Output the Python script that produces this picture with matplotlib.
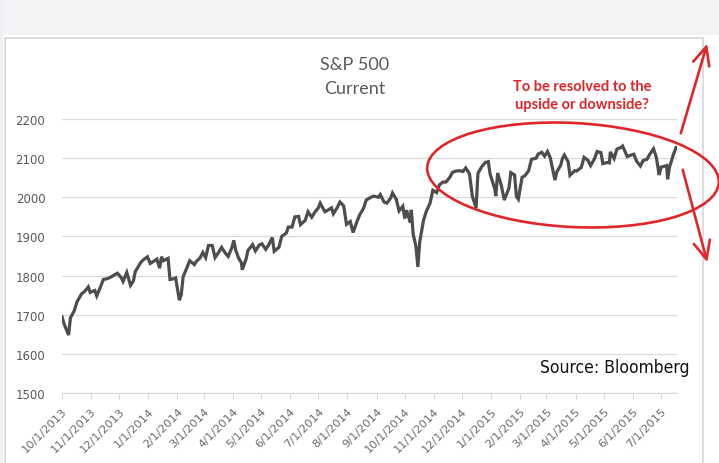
import matplotlib
matplotlib.use("Agg")
import matplotlib.pyplot as plt
from matplotlib.patches import Ellipse, Rectangle
import pandas as pd

# S&P 500 level, sampled a couple of times per week
dates = [
    "2013-10-01", "2013-10-03", "2013-10-08", "2013-10-10", "2013-10-14", "2013-10-17", "2013-10-22",
    "2013-10-25", "2013-10-29", "2013-10-31", "2013-11-05", "2013-11-07", "2013-11-11", "2013-11-14",
    "2013-11-18", "2013-11-21", "2013-11-26", "2013-11-29", "2013-12-03", "2013-12-05", "2013-12-09",
    "2013-12-13", "2013-12-16", "2013-12-18", "2013-12-20", "2013-12-24", "2013-12-27", "2013-12-31",
    "2014-01-03", "2014-01-07", "2014-01-10", "2014-01-13", "2014-01-15", "2014-01-17", "2014-01-22",
    "2014-01-24", "2014-01-28", "2014-01-30", "2014-02-03", "2014-02-05", "2014-02-07", "2014-02-11",
    "2014-02-14", "2014-02-19", "2014-02-21", "2014-02-25", "2014-02-28", "2014-03-03", "2014-03-06",
    "2014-03-10", "2014-03-13", "2014-03-17", "2014-03-20", "2014-03-24", "2014-03-27", "2014-03-31",
    "2014-04-02", "2014-04-04", "2014-04-07", "2014-04-10", "2014-04-11", "2014-04-15", "2014-04-17",
    "2014-04-22", "2014-04-25", "2014-04-29", "2014-05-02", "2014-05-06", "2014-05-09", "2014-05-13",
    "2014-05-15", "2014-05-20", "2014-05-23", "2014-05-28", "2014-05-30", "2014-06-03", "2014-06-06",
    "2014-06-10", "2014-06-12", "2014-06-17", "2014-06-20", "2014-06-24", "2014-06-27", "2014-07-01",
    "2014-07-03", "2014-07-08", "2014-07-11", "2014-07-15", "2014-07-17", "2014-07-21", "2014-07-24",
    "2014-07-28", "2014-07-31", "2014-08-04", "2014-08-07", "2014-08-11", "2014-08-14", "2014-08-18",
    "2014-08-21", "2014-08-26", "2014-08-29", "2014-09-03", "2014-09-05", "2014-09-09", "2014-09-12",
    "2014-09-16", "2014-09-18", "2014-09-22", "2014-09-25", "2014-09-29", "2014-10-01", "2014-10-03",
    "2014-10-07", "2014-10-08", "2014-10-10", "2014-10-13", "2014-10-15", "2014-10-17", "2014-10-21",
    "2014-10-24", "2014-10-28", "2014-10-31", "2014-11-04", "2014-11-07", "2014-11-11", "2014-11-14",
    "2014-11-18", "2014-11-21", "2014-11-25", "2014-11-28", "2014-12-02", "2014-12-05", "2014-12-09",
    "2014-12-12", "2014-12-16", "2014-12-18", "2014-12-22", "2014-12-26", "2014-12-29", "2014-12-31",
    "2015-01-05", "2015-01-06", "2015-01-08", "2015-01-12", "2015-01-15", "2015-01-20", "2015-01-22",
    "2015-01-26", "2015-01-28", "2015-01-30", "2015-02-03", "2015-02-06", "2015-02-10", "2015-02-13",
    "2015-02-18", "2015-02-20", "2015-02-24", "2015-02-27", "2015-03-02", "2015-03-05", "2015-03-10",
    "2015-03-12", "2015-03-16", "2015-03-18", "2015-03-20", "2015-03-24", "2015-03-26", "2015-03-31",
    "2015-04-02", "2015-04-07", "2015-04-10", "2015-04-14", "2015-04-17", "2015-04-21", "2015-04-24",
    "2015-04-28", "2015-04-30", "2015-05-05", "2015-05-07", "2015-05-08", "2015-05-12", "2015-05-15",
    "2015-05-19", "2015-05-21", "2015-05-26", "2015-05-29", "2015-06-02", "2015-06-05", "2015-06-09",
    "2015-06-12", "2015-06-16", "2015-06-19", "2015-06-23", "2015-06-26", "2015-06-29", "2015-07-01",
    "2015-07-07", "2015-07-08", "2015-07-10", "2015-07-14", "2015-07-17",
]
spx = [
    1695, 1678, 1648, 1692, 1710, 1733, 1754,
    1759, 1771, 1757, 1762, 1748, 1771, 1790,
    1792, 1795, 1802, 1806, 1795, 1785, 1808,
    1775, 1786, 1810, 1818, 1834, 1841, 1848,
    1831, 1837, 1842, 1819, 1848, 1838, 1844,
    1790, 1792, 1794, 1737, 1751, 1797, 1820,
    1838, 1828, 1836, 1845, 1859, 1846, 1877,
    1877, 1846, 1860, 1872, 1857, 1849, 1872,
    1890, 1865, 1845, 1833, 1815, 1842, 1864,
    1879, 1863, 1878, 1881, 1867, 1878, 1897,
    1862, 1872, 1900, 1909, 1924, 1924, 1950,
    1951, 1930, 1941, 1963, 1949, 1961, 1973,
    1985, 1963, 1967, 1973, 1958, 1973, 1988,
    1978, 1931, 1938, 1910, 1937, 1955, 1971,
    1993, 2000, 2003, 2000, 2007, 1988, 1985,
    1998, 2011, 1995, 1965, 1977, 1946, 1967,
    1935, 1968, 1906, 1874, 1822, 1886, 1941,
    1964, 1985, 2018, 2012, 2032, 2039, 2039,
    2051, 2064, 2067, 2068, 2066, 2075, 2060,
    2003, 1973, 2061, 2078, 2089, 2091, 2059,
    2021, 2003, 2062, 2029, 1993, 2023, 2063,
    2057, 2002, 1995, 2051, 2055, 2068, 2097,
    2100, 2110, 2115, 2105, 2117, 2101, 2044,
    2065, 2081, 2099, 2108, 2091, 2056, 2068,
    2067, 2076, 2102, 2095, 2081, 2098, 2117,
    2114, 2086, 2089, 2088, 2116, 2099, 2123,
    2127, 2131, 2104, 2107, 2110, 2092, 2080,
    2094, 2097, 2110, 2124, 2102, 2057, 2077,
    2081, 2046, 2077, 2108, 2127,
]
yticks = [1500, 1600, 1700, 1800, 1900, 2000, 2100, 2200]
title_lines = ["S&P 500", "Current"]
note = "To be resolved to the\nupside or downside?"
source = "Source: Bloomberg"

W, H = 719, 464
grey_txt = "#595959"
grid_c = "#d9d9d9"
red = "#e0262b"

fig = plt.figure(figsize=(W / 100, H / 100), dpi=100, facecolor="white")

# page background and chart frame
bg = fig.add_axes([0, 0, 1, 1], zorder=0)
bg.set_xlim(0, W)
bg.set_ylim(H, 0)
bg.axis("off")
bg.add_patch(Rectangle((0, 0), W, 36, color="#f3f3f6", lw=0))
bg.add_patch(Rectangle((0, 0), 3, H, color="#f0f0f4", lw=0))
bg.add_patch(Rectangle((5, 39), 698, H, fill=False, ec="#d6d6d6", lw=1.2))

ax = fig.add_axes([62 / W, (H - 394) / H, (677 - 62) / W, (394 - 120) / H], zorder=1)
ax.patch.set_alpha(0)
x = pd.to_datetime(dates)
ax.plot(x, spx, color="#4d4d4d", lw=2.3, solid_joinstyle="miter")

ax.set_ylim(1500, 2200)
ax.set_yticks(yticks)
ax.set_xlim(pd.Timestamp("2013-10-01"), pd.Timestamp("2015-07-18"))
months = pd.date_range("2013-10-01", "2015-07-01", freq="MS")
ax.set_xticks(months)
ax.set_xticklabels([f"{d.month}/{d.day}/{d.year}" for d in months],
                   rotation=45, ha="right", rotation_mode="anchor")
ax.grid(axis="y", color=grid_c, lw=0.9)
ax.set_axisbelow(True)
for s in ["top", "right", "left"]:
    ax.spines[s].set_visible(False)
ax.spines["bottom"].set_color(grid_c)
ax.spines["bottom"].set_linewidth(0.9)
ax.tick_params(axis="y", length=0, pad=12, labelsize=8.5, labelcolor=grey_txt)
ax.tick_params(axis="x", length=4, color=grid_c, pad=5, labelsize=8.2, labelcolor="#6a6a6a")

# overlay for title and hand-drawn notes, in pixel coordinates
ov = fig.add_axes([0, 0, 1, 1], zorder=2)
ov.set_xlim(0, W)
ov.set_ylim(H, 0)
ov.axis("off")
ov.patch.set_alpha(0)

ov.text(355, 65, title_lines[0], ha="center", va="center", fontsize=13,
        family="Lato", color=grey_txt)
ov.text(355, 89, title_lines[1], ha="center", va="center", fontsize=13,
        family="Lato", color=grey_txt)
ov.text(582, 96, note, ha="center", va="center", fontsize=10.5, fontweight="bold",
        family="Lato", color=red, linespacing=1.4)
ov.text(690, 368, source, ha="right", va="center", fontsize=12.5,
        family="DejaVu Sans", stretch="condensed", color="#111111")

ov.add_patch(Ellipse((573, 176), 292, 104, angle=3, fill=False, ec=red, lw=1.9))
arrow = dict(arrowstyle="->,head_length=1.3,head_width=0.6", color=red, lw=1.9)
ov.annotate("", xy=(708, 42), xytext=(680, 137), arrowprops=arrow)
ov.annotate("", xy=(708, 266), xytext=(682, 168), arrowprops=arrow)

fig.savefig("out.png", dpi=100, facecolor="white")
